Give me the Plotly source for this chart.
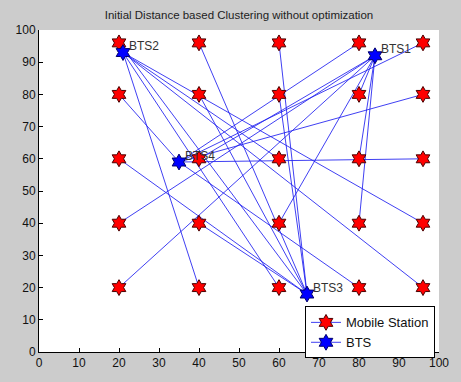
import plotly.graph_objects as go

# Mobile stations (grid)
ms_x = [20, 40, 60, 80, 96,
        20, 40, 60, 80, 96,
        20, 40, 60, 80, 96,
        20, 40, 60, 80, 96,
        20, 40, 60, 80, 96]
ms_y = [96, 96, 96, 96, 96,
        80, 80, 80, 80, 80,
        60, 60, 60, 60, 60,
        40, 40, 40, 40, 40,
        20, 20, 20, 20, 20]
# BTS index (0-based: BTS1..BTS4) each mobile station is linked to
ms_bts = [2, 2, 2, 3, 3,
          3, 2, 2, 0, 3,
          2, 0, 1, 0, 3,
          0, 2, 0, 0, 1,
          0, 1, 1, 3, 1]

bts_names = ["BTS1", "BTS2", "BTS3", "BTS4"]
bts_x = [84, 21, 67, 35]
bts_y = [92, 93, 18, 59]

line_col = "rgba(30,30,240,0.85)"
ms_fill = "#ff0000"
ms_edge = "#4a0000"
bts_fill = "#0000ff"
bts_edge = "#00006a"
msize = 12

lx, ly = [], []
for x, y, b in zip(ms_x, ms_y, ms_bts):
    lx += [x, bts_x[b], None]
    ly += [y, bts_y[b], None]

fig = go.Figure()
fig.add_trace(go.Scatter(x=lx, y=ly, mode="lines",
                         line=dict(color=line_col, width=1),
                         showlegend=False, hoverinfo="skip"))
fig.add_trace(go.Scatter(x=ms_x, y=ms_y, mode="markers", name="Mobile Station",
                         marker=dict(symbol="hexagram", size=msize, color=ms_fill,
                                     line=dict(color=ms_edge, width=1)),
                         showlegend=False))
fig.add_trace(go.Scatter(x=bts_x, y=bts_y, mode="markers", name="BTS",
                         marker=dict(symbol="hexagram", size=msize, color=bts_fill,
                                     line=dict(color=bts_edge, width=1)),
                         showlegend=False))
# legend entries
fig.add_trace(go.Scatter(x=[None], y=[None], mode="lines+markers", name="Mobile Station",
                         line=dict(color=line_col, width=1),
                         marker=dict(symbol="hexagram", size=msize, color=ms_fill,
                                     line=dict(color=ms_edge, width=1))))
fig.add_trace(go.Scatter(x=[None], y=[None], mode="lines+markers", name="BTS",
                         line=dict(color=line_col, width=1),
                         marker=dict(symbol="hexagram", size=msize, color=bts_fill,
                                     line=dict(color=bts_edge, width=1))))

for n, x, y in zip(bts_names, bts_x, bts_y):
    fig.add_annotation(x=x + 1.0, y=y + 2, text=n, showarrow=False,
                       xanchor="left", yanchor="middle",
                       font=dict(size=12, color="#333333", family="Arial, Liberation Sans"))

ticks = list(range(0, 101, 10))
axis_common = dict(range=[0, 100], tickvals=ticks, ticks="inside", ticklen=4,
                   tickcolor="black", showline=True, linecolor="black", linewidth=1,
                   showgrid=False, zeroline=False, mirror=False,
                   tickfont=dict(size=12, color="#111111", family="Arial, Liberation Sans"))

fig.update_layout(
    width=461, height=382,
    margin=dict(l=39, r=20, t=30, b=20),
    paper_bgcolor="rgb(204,204,204)",
    plot_bgcolor="white",
    title=dict(text="Initial Distance based Clustering without optimization",
               x=0.5, xanchor="center", xref="paper", y=1 - 15 / 382, yanchor="middle",
               font=dict(size=11.5, color="#222222", family="Arial, Liberation Sans")),
    xaxis=axis_common,
    yaxis=axis_common,
    legend=dict(x=0.99, y=-0.02, xanchor="right", yanchor="bottom",
                bgcolor="white", bordercolor="black", borderwidth=1,
                font=dict(size=13, color="#111111", family="Arial, Liberation Sans"),
                tracegroupgap=0),
)

fig.write_html("out.html")
